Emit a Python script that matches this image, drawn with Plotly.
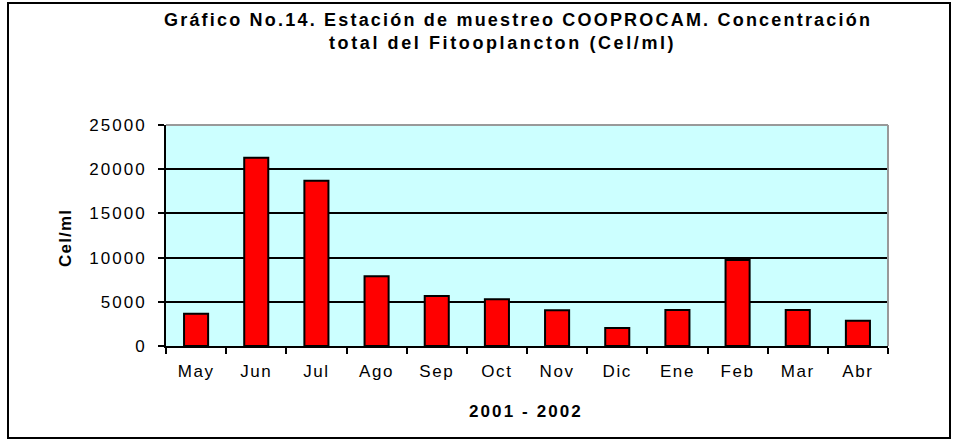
import plotly.graph_objects as go

months = ["May", "Jun", "Jul", "Ago", "Sep", "Oct", "Nov", "Dic", "Ene", "Feb", "Mar", "Abr"]
cel_ml = [3650, 21300, 18700, 7900, 5650, 5280, 4040, 2040, 4070, 9730, 4070, 2860]
y_ticks = [0, 5000, 10000, 15000, 20000, 25000]
title_line1 = "Gráfico No.14. Estación de muestreo COOPROCAM. Concentración"
title_line2 = "total del Fitooplancton (Cel/ml)"
x_title = "2001 - 2002"
y_title = "Cel/ml"

W, H = 953, 440
L, R, T, B = 166, 65, 125, 94
pw, ph = W - L - R, H - T - B

def px_x(x):
    return (x - L) / pw

def px_y(y):
    return (H - B - y) / ph

def spaced(s, ls, bold=False):
    t = f'<span style="letter-spacing:{ls}px">{s}</span>'
    return f"<b>{t}</b>" if bold else t

fig = go.Figure()
fig.add_trace(go.Bar(
    x=months, y=cel_ml,
    marker=dict(color="#FF0000", line=dict(color="#000000", width=2)),
))

ann = dict(xref="paper", yref="paper", showarrow=False, font=dict(size=18, color="black"))
fig.update_layout(
    width=W, height=H,
    margin=dict(l=L, r=R, t=T, b=B),
    paper_bgcolor="white",
    plot_bgcolor="#CCFFFF",
    bargap=0.6,
    showlegend=False,
    font=dict(family="Liberation Sans, Arial, sans-serif", color="black"),
    xaxis=dict(
        tickson="boundaries", ticks="outside", ticklen=6, tickwidth=2, tickcolor="black",
        showline=True, linecolor="black", linewidth=2,
        showgrid=False, tickfont=dict(size=17),
        tickvals=months, ticktext=[spaced(m, 1.6) for m in months],
        ticklabelstandoff=9,
    ),
    yaxis=dict(
        range=[0, 25000], tickvals=y_ticks, ticktext=[spaced(str(v), 2.0) for v in y_ticks],
        ticks="outside", ticklen=6, tickwidth=2,
        tickcolor="black", showline=True, linecolor="black", linewidth=2,
        showgrid=True, gridcolor="black", gridwidth=1.5, zeroline=False,
        tickfont=dict(size=17), ticklabelstandoff=8,
    ),
    annotations=[
        dict(ann, text=spaced(title_line1, 2.2, True), x=px_x(518), y=px_y(20),
             xanchor="center", yanchor="middle"),
        dict(ann, text=spaced(title_line2, 2.6, True), x=px_x(502), y=px_y(43),
             xanchor="center", yanchor="middle"),
        dict(ann, text=spaced(x_title, 2.1, True), x=px_x(526), y=px_y(411),
             xanchor="center", yanchor="middle", font=dict(size=17, color="black")),
        dict(ann, text=spaced(y_title, 1.2, True), x=px_x(65), y=px_y(238),
             xanchor="center", yanchor="middle", textangle=-90,
             font=dict(size=17, color="black")),
    ],
    shapes=[
        dict(type="line", xref="paper", yref="paper", x0=0, x1=1, y0=1, y1=1,
             line=dict(color="#999999", width=2), layer="above"),
        dict(type="line", xref="paper", yref="paper", x0=1, x1=1, y0=0, y1=1,
             line=dict(color="#999999", width=2), layer="above"),
        dict(type="rect", xref="paper", yref="paper",
             x0=px_x(8), x1=px_x(950), y0=px_y(438), y1=px_y(3),
             line=dict(color="black", width=2), fillcolor="rgba(0,0,0,0)", layer="above"),
    ],
)

fig.write_html("out.html", config={"displayModeBar": False},
               post_script="document.body.style.margin='0px';")
